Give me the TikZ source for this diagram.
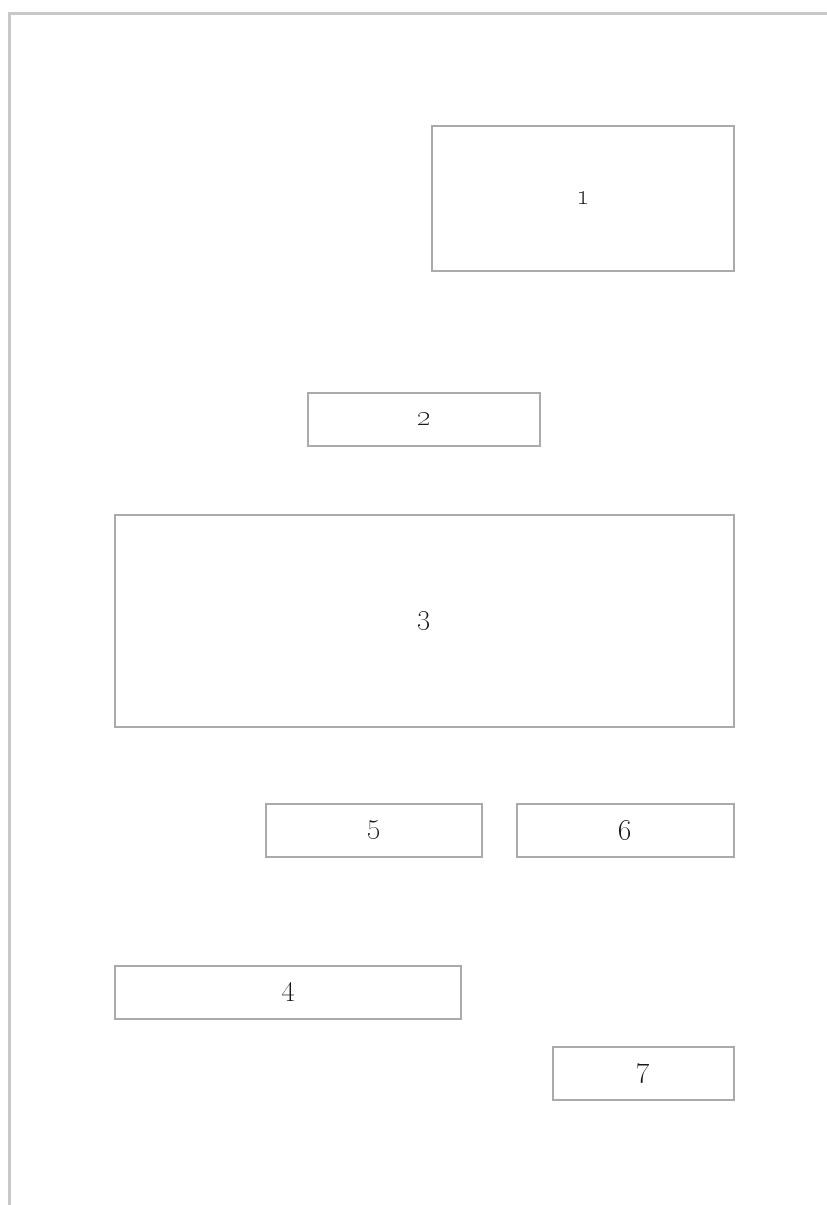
\documentclass[tikz,border=0pt]{standalone}
\usepackage{tikz}
\usetikzlibrary{positioning}

\definecolor{framegray}{RGB}{200,200,200}
\definecolor{boxgray}{RGB}{170,170,170}
\definecolor{textgray}{RGB}{25,25,25}

\begin{document}
\begin{tikzpicture}[
  x=1pt, y=-1pt,
  panel/.style={rectangle, draw=boxgray, line width=1.6pt, inner sep=0pt,
    text=textgray, font=\fontsize{32}{38}\selectfont},
  frameline/.style={draw=framegray, line width=3pt}
]
\useasboundingbox (0,0) rectangle (827,1205);
% page edge
\coordinate (fbot) at (9,1205);
\coordinate (fcorner) at (9,13.5);
\coordinate (fright) at (827,13.5);
\draw[frameline] (fbot) -- (fcorner) -- (fright);

\node[panel, minimum width=302pt, minimum height=145pt] (one) at (583,198.5) {\oldstylenums{1}};
\node[panel, minimum width=232pt, minimum height=53pt] (two) at (424,419.5) {\oldstylenums{2}};
\node[panel, minimum width=619pt, minimum height=212pt] (three) at (424.5,621) {\oldstylenums{3}};
\node[panel, minimum width=216pt, minimum height=53pt] (five) at (374,830.5) {\oldstylenums{5}};
\node[panel, minimum width=217pt, minimum height=53pt] (six) at (625.5,830.5) {\oldstylenums{6}};
\node[panel, minimum width=346pt, minimum height=53pt] (four) at (288,992.5) {\oldstylenums{4}};
\node[panel, minimum width=181pt, minimum height=53pt] (seven) at (643.5,1073.5) {\oldstylenums{7}};
\end{tikzpicture}
\end{document}
